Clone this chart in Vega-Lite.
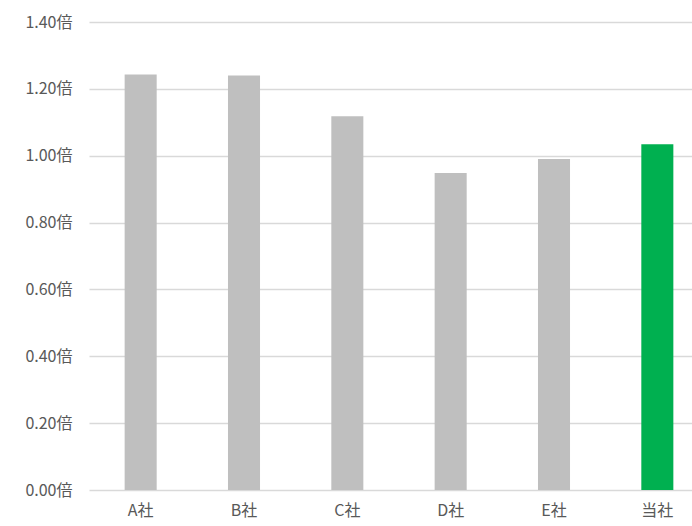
{
  "$schema": "https://vega.github.io/schema/vega-lite/v6.json",
  "autosize": "none",
  "padding": {"left": 89, "top": 22, "right": 0, "bottom": 36},
  "width": 603,
  "height": 468,
  "background": "white",
  "data": {"values": [
    {"company": "A社", "value": 1.243, "type": "other"},
    {"company": "B社", "value": 1.240, "type": "other"},
    {"company": "C社", "value": 1.118, "type": "other"},
    {"company": "D社", "value": 0.948, "type": "other"},
    {"company": "E社", "value": 0.990, "type": "other"},
    {"company": "当社", "value": 1.034, "type": "self"}
  ]},
  "config": {
    "view": {"stroke": null},
    "font": "Noto Sans CJK JP"
  },
  "mark": {"type": "bar"},
  "encoding": {
    "x": {
      "field": "company", "type": "nominal", "sort": null,
      "scale": {"range": [0, 620], "paddingInner": 0.69, "paddingOuter": 0.345},
      "axis": {"title": null, "labelAngle": 0, "domain": false, "ticks": false, "grid": false,
               "labelFontSize": 16, "labelColor": "#595959", "labelPadding": 12, "labelFont": "Noto Sans CJK JP"}
    },
    "y": {
      "field": "value", "type": "quantitative",
      "scale": {"domain": [0, 1.4], "nice": false},
      "axis": {"title": null, "values": [0, 0.2, 0.4, 0.6, 0.8, 1.0, 1.2, 1.4],
               "labelExpr": "format(datum.value, '.2f') + '倍'",
               "domain": false, "ticks": false, "grid": true, "gridColor": "#d9d9d9", "gridWidth": 1.5,
               "labelFontSize": 16, "labelColor": "#595959", "labelPadding": 17, "labelFont": "Noto Sans CJK JP"}
    },
    "color": {
      "field": "type", "type": "nominal", "legend": null,
      "scale": {"domain": ["other", "self"], "range": ["#bfbfbf", "#00b050"]}
    }
  }
}
